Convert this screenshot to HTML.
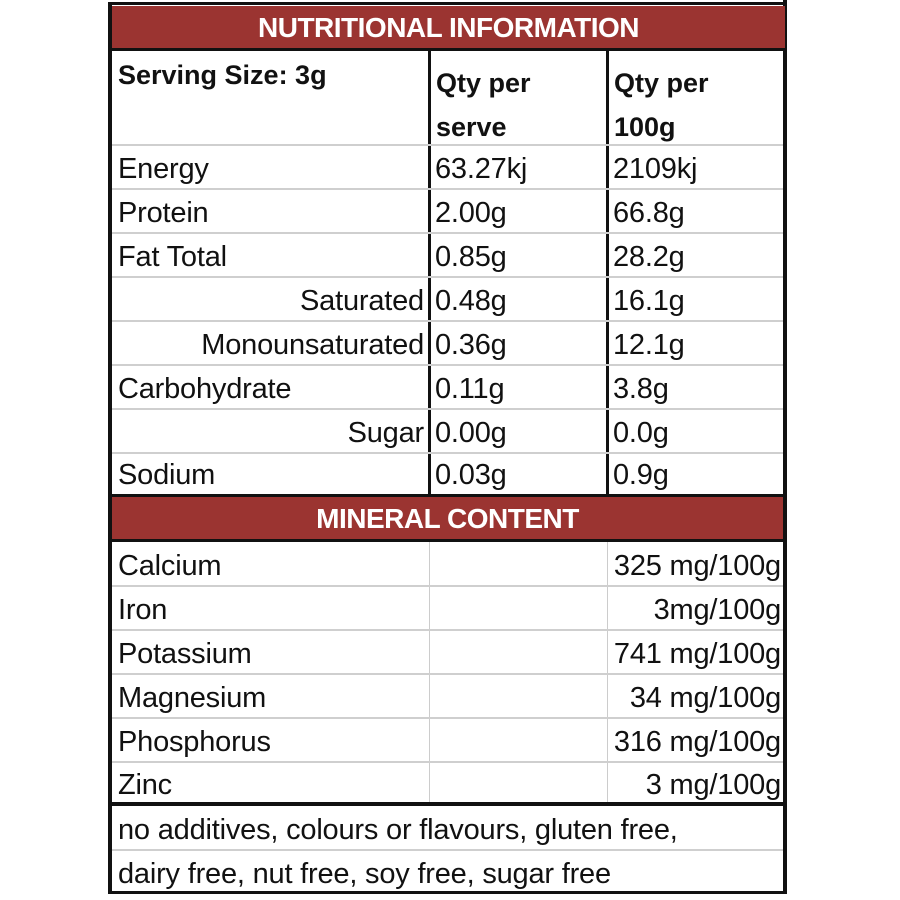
<!DOCTYPE html>
<html><head><style>
body{margin:0;background:#fff;width:900px;height:900px;position:relative;overflow:hidden;font-family:"Liberation Sans",sans-serif;color:#111}
.a{position:absolute}
.t{position:absolute;font-size:29px;line-height:44px;white-space:nowrap;letter-spacing:-0.2px}
.b{font-weight:bold;font-size:27px;letter-spacing:0}
.hl{position:absolute;height:2px;background:#cfcfcf}
.vl{position:absolute;width:3px;background:#111}
.red{position:absolute;background:#9b3431;color:#fff;font-weight:bold;font-size:28px;text-align:center;letter-spacing:-0.5px}
</style></head><body>
<div class="a" style="left:108px;top:2px;width:678px;height:892px;border:3px solid #111;box-sizing:border-box;border-right:none;border-left:4px solid #111"></div>
<div class="a" style="left:783px;top:0;width:4px;height:894px;background:#111"></div>
<div class="red" style="left:112px;top:6px;width:673px;height:43px;line-height:43px">NUTRITIONAL INFORMATION</div>
<div class="a" style="left:108px;top:48px;width:678px;height:3px;background:#111"></div>
<div class="vl" style="left:428px;top:50px;height:446px"></div>
<div class="vl" style="left:606px;top:50px;height:446px"></div>
<div class="hl" style="left:112px;top:144px;width:671px"></div>
<div class="hl" style="left:112px;top:188px;width:671px"></div>
<div class="hl" style="left:112px;top:232px;width:671px"></div>
<div class="hl" style="left:112px;top:276px;width:671px"></div>
<div class="hl" style="left:112px;top:320px;width:671px"></div>
<div class="hl" style="left:112px;top:364px;width:671px"></div>
<div class="hl" style="left:112px;top:408px;width:671px"></div>
<div class="hl" style="left:112px;top:452px;width:671px"></div>
<div class="a" style="left:108px;top:494px;width:678px;height:3px;background:#111"></div>
<div class="red" style="left:112px;top:497px;width:671px;height:43px;line-height:43px">MINERAL CONTENT</div>
<div class="a" style="left:108px;top:539px;width:678px;height:3px;background:#111"></div>
<div class="a" style="left:429px;top:542px;width:1px;height:261px;background:#ccc"></div>
<div class="a" style="left:607px;top:542px;width:1px;height:261px;background:#ccc"></div>
<div class="hl" style="left:112px;top:585px;width:671px"></div>
<div class="hl" style="left:112px;top:629px;width:671px"></div>
<div class="hl" style="left:112px;top:673px;width:671px"></div>
<div class="hl" style="left:112px;top:717px;width:671px"></div>
<div class="hl" style="left:112px;top:761px;width:671px"></div>
<div class="a" style="left:108px;top:802px;width:678px;height:4px;background:#111"></div>
<div class="hl" style="left:112px;top:849px;width:671px"></div>

<div class="t b" style="left:118px;top:53px">Serving Size: 3g</div>
<div class="t b" style="left:436px;top:61px">Qty per</div>
<div class="t b" style="left:436px;top:105px">serve</div>
<div class="t b" style="left:614px;top:61px">Qty per</div>
<div class="t b" style="left:614px;top:105px">100g</div>

<div class="t" style="left:118px;top:147px">Energy</div><div class="t" style="left:435px;top:147px">63.27kj</div><div class="t" style="left:613px;top:147px">2109kj</div>
<div class="t" style="left:118px;top:191px">Protein</div><div class="t" style="left:435px;top:191px">2.00g</div><div class="t" style="left:613px;top:191px">66.8g</div>
<div class="t" style="left:118px;top:235px">Fat Total</div><div class="t" style="left:435px;top:235px">0.85g</div><div class="t" style="left:613px;top:235px">28.2g</div>
<div class="t" style="right:476px;top:279px">Saturated</div><div class="t" style="left:435px;top:279px">0.48g</div><div class="t" style="left:613px;top:279px">16.1g</div>
<div class="t" style="right:476px;top:323px">Monounsaturated</div><div class="t" style="left:435px;top:323px">0.36g</div><div class="t" style="left:613px;top:323px">12.1g</div>
<div class="t" style="left:118px;top:367px">Carbohydrate</div><div class="t" style="left:435px;top:367px">0.11g</div><div class="t" style="left:613px;top:367px">3.8g</div>
<div class="t" style="right:476px;top:411px">Sugar</div><div class="t" style="left:435px;top:411px">0.00g</div><div class="t" style="left:613px;top:411px">0.0g</div>
<div class="t" style="left:118px;top:453px">Sodium</div><div class="t" style="left:435px;top:453px">0.03g</div><div class="t" style="left:613px;top:453px">0.9g</div>

<div class="t" style="left:118px;top:544px">Calcium</div><div class="t" style="right:119px;top:544px">325 mg/100g</div>
<div class="t" style="left:118px;top:588px">Iron</div><div class="t" style="right:119px;top:588px">3mg/100g</div>
<div class="t" style="left:118px;top:632px">Potassium</div><div class="t" style="right:119px;top:632px">741 mg/100g</div>
<div class="t" style="left:118px;top:676px">Magnesium</div><div class="t" style="right:119px;top:676px">34 mg/100g</div>
<div class="t" style="left:118px;top:720px">Phosphorus</div><div class="t" style="right:119px;top:720px">316 mg/100g</div>
<div class="t" style="left:118px;top:763px">Zinc</div><div class="t" style="right:119px;top:763px">3 mg/100g</div>

<div class="t" style="left:118px;top:808px">no additives, colours or flavours, gluten free,</div>
<div class="t" style="left:118px;top:852px">dairy free, nut free, soy free, sugar free</div>
</body></html>
